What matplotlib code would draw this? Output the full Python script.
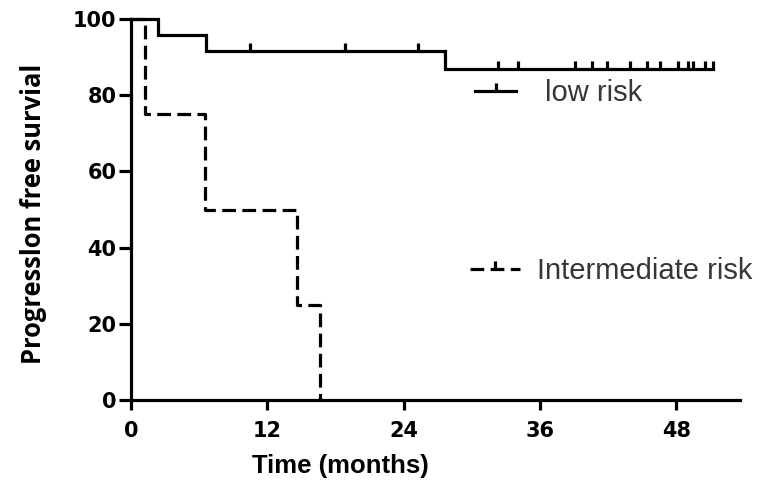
import numpy as np
import matplotlib
matplotlib.use('Agg')
import matplotlib.pyplot as plt
from matplotlib.lines import Line2D


## survival curves (months, percent)
lowTimes = [0, 2.4, 6.6, 27.6, 51.2]
lowSurv = [100, 95.8, 91.7, 86.9, 86.9]
lowCensored = [10.5, 18.8, 25.3, 32.3, 34.1, 39.1, 40.6, 41.9, 43.9,
               45.4, 46.6, 48.1, 49.0, 49.5, 50.5, 51.2]

midTimes = [0, 1.2, 6.5, 14.6, 16.6]
midSurv = [100, 75, 50, 25, 0]

xTicks = [0, 12, 24, 36, 48]
yTicks = [0, 20, 40, 60, 80, 100]
seriesNames = ['low risk', 'Intermediate risk']


def survAt(times, surv, t):
	idx = np.searchsorted(times, t, side = 'right') - 1
	return np.asarray(surv)[idx]


LW = 2.3
tickMark = [(0, 0), (0, 1)]
dashStyle = (4.3, 2.0)

fig = plt.figure(figsize = (7.7, 4.92), dpi = 100)
ax = fig.add_axes([131 / 770, 1 - 400 / 492, 609 / 770, 381 / 492])

ax.step(lowTimes, lowSurv, where = 'post', color = 'black', lw = LW, clip_on = False,
        solid_joinstyle = 'miter')
ax.plot(lowCensored, survAt(lowTimes, lowSurv, lowCensored), ls = 'none',
        marker = tickMark, ms = 11, mew = LW, mec = 'black', clip_on = False)

midLine, = ax.step(midTimes, midSurv, where = 'post', color = 'black', lw = LW,
                   clip_on = False)
midLine.set_dashes(dashStyle)

ax.set_xlim(0, 53.6)
ax.set_ylim(0, 100)
ax.set_xticks(xTicks)
ax.set_yticks(yTicks)

for side in ['top', 'right']:
	ax.spines[side].set_visible(False)
for side in ['left', 'bottom']:
	ax.spines[side].set_linewidth(LW)

ax.tick_params(axis = 'x', length = 7, width = LW, pad = 8)
ax.tick_params(axis = 'y', length = 9, width = LW, pad = 1.5)
for lbl in ax.get_xticklabels() + ax.get_yticklabels():
	lbl.set_fontfamily('DejaVu Sans')
	lbl.set_fontweight('bold')
	lbl.set_fontsize(15)

ax.set_xlabel('Time (months)', fontsize = 18.5, fontweight = 'bold',
              family = 'Liberation Sans')
ax.xaxis.set_label_coords(0.343, -0.142)
ax.set_ylabel('Progresslon free survial', fontsize = 18.4, fontweight = 'bold',
              family = ['Open Sans', 'DejaVu Sans'])
ax.yaxis.set_label_coords(-0.138, 0.488)

## two separate legend entries
lowHandle = Line2D([], [], color = 'black', lw = LW, marker = tickMark, ms = 11,
                   mew = LW)
midHandle = Line2D([], [], color = 'black', lw = LW, dashes = dashStyle,
                   marker = tickMark, ms = 11, mew = LW)
textProps = {'family': 'Liberation Sans', 'size': 21}

leg1 = ax.legend([lowHandle], [seriesNames[0]], loc = 'center left',
                 bbox_to_anchor = (0.565, 0.806), frameon = False, borderpad = 0,
                 borderaxespad = 0, handlelength = 1.4, handletextpad = 1.0,
                 numpoints = 1, prop = textProps, labelcolor = '#38343c')
ax.add_artist(leg1)
ax.legend([midHandle], [seriesNames[1]], loc = 'center left',
          bbox_to_anchor = (0.557, 0.339), frameon = False, borderpad = 0,
          borderaxespad = 0, handlelength = 1.7, handletextpad = 0.6,
          numpoints = 1, prop = textProps, labelcolor = '#38343c')

fig.savefig('out.png', dpi = 100)
